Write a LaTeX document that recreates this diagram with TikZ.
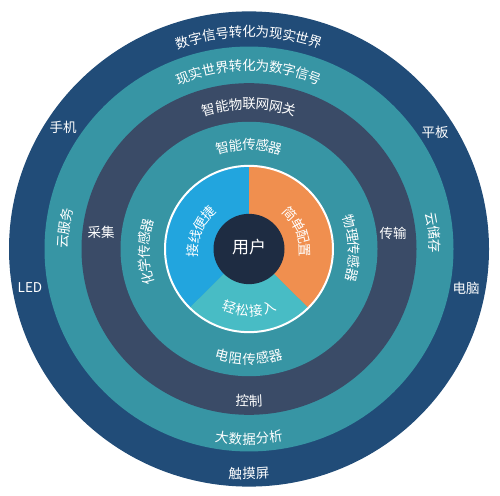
\documentclass[tikz,border=0pt]{standalone}
\usepackage{fontspec}
\setmainfont{Noto Sans CJK SC}
\usepackage{xcolor}
\usetikzlibrary{decorations.text}
\newcommand{\FL}{\fontsize{13.5}{16}\selectfont}
\newcommand{\FU}{\fontsize{17}{20}\selectfont}
\definecolor{ringblue}{HTML}{214C78}
\definecolor{ringteal}{HTML}{3795A4}
\definecolor{ringslate}{HTML}{3A4B67}
\definecolor{pieblue}{HTML}{22A5DE}
\definecolor{pieorange}{HTML}{F08F4F}
\definecolor{pieteal}{HTML}{48BCC5}
\definecolor{coredark}{HTML}{1E2C42}

\begin{document}
\begin{tikzpicture}[x=1pt,y=1pt,
  arctext/.style={decorate,decoration={text along path,text align=center,
    raise=-5pt,text={|\FL\color{white}|#1}}}]
\tikzstyle{texto}=[draw=none,fill=none,text=white,font=\FL,inner sep=0pt]
\useasboundingbox (0,0) rectangle (500,495);
\coordinate (c) at (249,246);
\coordinate (t) at (249,243);

\begin{scope}[shift={(c)},yscale=0.99]
\fill[ringblue]  (0,0) circle (240);
\fill[ringteal]  (0,0) circle (204.5);
\fill[ringslate] (0,0) circle (167.5);
\fill[ringteal]  (0,0) circle (128.5);
\fill[pieblue]   (0,0) -- (90:84) arc[start angle=90,end angle=225,radius=84] -- cycle;
\fill[pieteal]   (0,0) -- (225:84) arc[start angle=225,end angle=315,radius=84] -- cycle;
\fill[pieorange] (0,0) -- (315:84) arc[start angle=315,end angle=450,radius=84] -- cycle;
\draw[white,line width=2pt] (0,0) circle (84);
\fill[coredark] (0,0) circle (35.5);
\end{scope}

\begin{scope}[shift={(t)}]
\path[arctext={数字信号转化为现实世界}] (150:220) arc[start angle=150,end angle=30,radius=220];
\path[arctext={现实世界转化为数字信号}] (150:186) arc[start angle=150,end angle=30,radius=186];
\path[arctext={智能物联网网关}] (140:148) arc[start angle=140,end angle=40,radius=148];
\path[arctext={智能传感器}] (140:107) arc[start angle=140,end angle=40,radius=107];

\path[arctext={电阻传感器}] (200:107) arc[start angle=200,end angle=340,radius=107];
\path[arctext={控制}] (220:149) arc[start angle=220,end angle=320,radius=149];
\path[arctext={大数据分析}] (220:187) arc[start angle=220,end angle=320,radius=187];
\path[arctext={触摸屏}] (230:222) arc[start angle=230,end angle=310,radius=222];

\path[arctext={云服务}] (205:186) arc[start angle=205,end angle=140,radius=186];
\path[arctext={云储存}] (35:186) arc[start angle=35,end angle=-23,radius=186];
\path[arctext={化学传感器}] (215:105) arc[start angle=215,end angle=145,radius=105];
\path[arctext={物理传感器}] (35:105) arc[start angle=35,end angle=-31,radius=105];

\path[arctext={接线便捷}] (200:56) arc[start angle=200,end angle=115,radius=56];
\path[arctext={简单配置}] (65:56) arc[start angle=65,end angle=-20,radius=56];
\path[arctext={轻松接入}] (220:59) arc[start angle=220,end angle=320,radius=59];
\end{scope}

\node[texto,font=\FU] (user) at (249,248) {用户};
\node[texto] (phone)   at (63,368)  {手机};
\node[texto] (tablet)  at (435,363) {平板};
\node[texto] (led)     at (30,207)  {LED};
\node[texto] (pc)      at (466,207) {电脑};
\node[texto] (collect) at (101,263) {采集};
\node[texto] (trans)   at (393,262) {传输};
\end{tikzpicture}
\end{document}
